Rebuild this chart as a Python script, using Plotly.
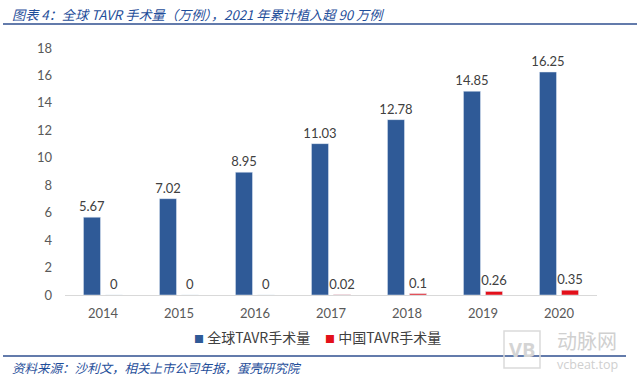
import plotly.graph_objects as go

years = ["2014", "2015", "2016", "2017", "2018", "2019", "2020"]
global_vals = [5.67, 7.02, 8.95, 11.03, 12.78, 14.85, 16.25]
china_vals = [0, 0, 0, 0.02, 0.1, 0.26, 0.35]
global_name = "全球TAVR手术量"
china_name = "中国TAVR手术量"
title_text = "图表 4：全球 TAVR 手术量（万例），2021 年累计植入超 90 万例"
source_text = "资料来源：沙利文，相关上市公司年报，蛋壳研究院"
y_ticks = [0, 2, 4, 6, 8, 10, 12, 14, 16, 18]

W, H = 640, 380
L, R, T, B = 65, 43, 48, 85
PW, PH = W - L - R, H - T - B


def px(x):
    return (x - L) / PW


def py(y):
    return (H - B - y) / PH


BLUE = "#2F5A97"
RED = "#E3101A"
TITLE_BLUE = "#1F4E9A"
NUM_FONT = "Lato, 'Noto Sans CJK SC', sans-serif"
CJK_FONT = "'Noto Sans CJK SC', sans-serif"

fig = go.Figure()
fig.add_trace(go.Bar(
    x=years, y=global_vals, name=global_name, marker_color=BLUE,
    text=[str(v) for v in global_vals], textposition="outside",
    textfont=dict(family=NUM_FONT, size=13, color="#404040"),
    cliponaxis=False, constraintext="none",
))
fig.add_trace(go.Bar(
    x=years, y=china_vals, name=china_name, marker_color=RED,
    text=[str(v) for v in china_vals], textposition="outside",
    textfont=dict(family=NUM_FONT, size=13, color="#404040"),
    cliponaxis=False, constraintext="none",
))


def legend_entry(color, label):
    return ("<span style='color:%s;font-size:10px'>■</span> " % color) + label


fig.update_layout(
    width=W, height=H,
    margin=dict(l=L, r=R, t=T, b=B),
    paper_bgcolor="white", plot_bgcolor="white",
    barmode="group", bargap=0.42, bargroupgap=0.227,
    font=dict(family=NUM_FONT, size=13, color="#595959"),
    showlegend=False,
    xaxis=dict(
        showline=True, linecolor="#D9D9D9", linewidth=1,
        ticks="", showgrid=False, tickfont=dict(family=NUM_FONT, size=13, color="#595959"),
        ticklabelstandoff=6,
    ),
    yaxis=dict(
        range=[0, 18], tickvals=y_ticks, showgrid=False, zeroline=False,
        showline=False, ticks="", tickfont=dict(family=NUM_FONT, size=13, color="#595959"),
        ticklabelstandoff=12,
    ),
    shapes=[
        dict(type="line", xref="paper", yref="paper", x0=px(3), x1=px(637), y0=py(24), y1=py(24),
             line=dict(color="#2F4F8F", width=1.5)),
        dict(type="line", xref="paper", yref="paper", x0=px(3), x1=px(626), y0=py(356), y1=py(356),
             line=dict(color="#2F4F8F", width=1.5)),
        dict(type="rect", xref="paper", yref="paper", x0=px(504), x1=px(540), y0=py(368), y1=py(331),
             line=dict(color="#DADADA", width=1.5)),
    ],
    annotations=[
        dict(text="<i>" + title_text + "</i>", xref="paper", yref="paper", x=px(10), y=py(14),
             xanchor="left", yanchor="middle", showarrow=False,
             font=dict(family=CJK_FONT, size=13.2, color=TITLE_BLUE)),
        dict(text="<i>" + source_text + "</i>", xref="paper", yref="paper", x=px(10), y=py(367),
             xanchor="left", yanchor="middle", showarrow=False,
             font=dict(family=CJK_FONT, size=12.5, color=TITLE_BLUE)),
        dict(text=legend_entry(BLUE, global_name), xref="paper", yref="paper", x=px(192), y=py(337),
             xanchor="left", yanchor="middle", showarrow=False,
             font=dict(family=CJK_FONT, size=14, color="#404040")),
        dict(text=legend_entry(RED, china_name), xref="paper", yref="paper", x=px(323), y=py(337),
             xanchor="left", yanchor="middle", showarrow=False,
             font=dict(family=CJK_FONT, size=14, color="#404040")),
        dict(text="动脉网", xref="paper", yref="paper", x=px(587), y=py(340),
             xanchor="center", yanchor="middle", showarrow=False,
             font=dict(family=CJK_FONT, size=20, color="#D0D0D0")),
        dict(text="vcbeat.top", xref="paper", yref="paper", x=px(587), y=py(364),
             xanchor="center", yanchor="middle", showarrow=False,
             font=dict(family="'Open Sans', sans-serif", size=12.5, color="#CFCFCF")),
        dict(text="<b>VB</b>", xref="paper", yref="paper", x=px(522), y=py(349.5),
             xanchor="center", yanchor="middle", showarrow=False,
             font=dict(family="'Open Sans', sans-serif", size=20, color="#D4D4D4")),
    ],
)

fig.write_html("out.html", config={"displayModeBar": False},
               post_script="document.body.style.margin='0';")
